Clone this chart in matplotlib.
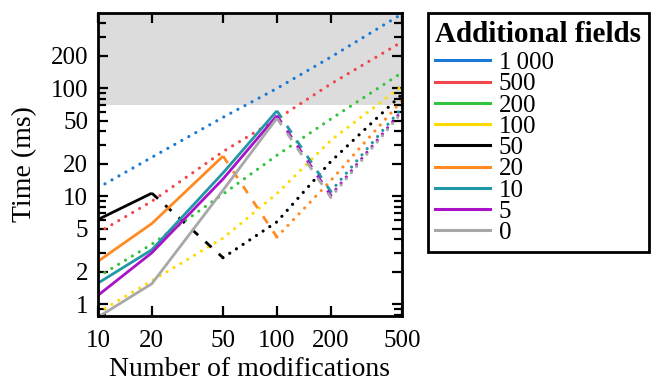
import matplotlib
matplotlib.use("Agg")
import matplotlib.pyplot as plt
from matplotlib.ticker import FixedLocator, NullFormatter, LogLocator

plt.rcParams['font.family'] = ['Liberation Serif', 'DejaVu Serif']

# number of modifications (x axis)
mods = [10, 20, 50, 100, 200, 500]

# legend labels (additional fields)
fields = ['1\u2009000', '500', '200', '100', '50', '20', '10', '5', '0']
colors = ['#1a78d6', '#f2474a', '#33c43f', '#ffdc00', '#000000',
          '#ff8a22', '#2197a8', '#a812c8', '#a8a8a8']

# times in ms
time_1000 = [12, 23, 54, 100, 195, 490]
time_500 = [4.6, 9, 26, 52, 110, 270]
time_200 = [1.8, 3.6, 10.5, 24, 52, 140]
time_100 = [0.84, 1.65, 4.1, 10.6, 33, 105]
time_50 = [6.1, 10.7, 2.7, 5.8, 21, 88]
time_20 = [2.5, 5.6, 23.6, 4.2, 14, 77]
time_10 = [1.57, 3.2, 16.5, 62, 11.1, 66]
time_5 = [1.21, 3.0, 14.5, 56, 10.2, 62]
time_0 = [0.76, 1.55, 11.4, 53, 9.8, 60]
times = [time_1000, time_500, time_200, time_100, time_50,
         time_20, time_10, time_5, time_0]

# index of the last point of the solid part (0 = only dotted)
last_solid = [0, 0, 0, 0, 1, 2, 3, 3, 3]

threshold = 70  # shaded region above this

fig = plt.figure(figsize=(6.6, 3.82), dpi=100)
ax = fig.add_axes([0.1485, 0.173, 0.4605, 0.793])

ax.axhspan(threshold, 1000, color='#dcdcdc', lw=0, zorder=0)

lw = 2.0
dotted = (0, (0.01, 2.5))
dashed = (0, (3, 3.5))
handles = []
for label, col, y, m in zip(fields, colors, times, last_solid):
  if m > 0:
    ax.plot(mods[:m + 1], y[:m + 1], color=col, lw=lw,
            solid_capstyle='butt')
    ax.plot(mods[m:m + 2], y[m:m + 2], color=col, lw=lw,
            linestyle=dashed, dash_capstyle='butt')
    ax.plot(mods[m + 1:], y[m + 1:], color=col, lw=2.3,
            linestyle=dotted, dash_capstyle='round')
  else:
    ax.plot(mods, y, color=col, lw=2.3,
            linestyle=dotted, dash_capstyle='round')
  handles.append(plt.Line2D([], [], color=col, lw=2.2, label=label))

ax.set_xscale('log')
ax.set_yscale('log')
ax.set_xlim(10, 500)
ax.set_ylim(0.78, 500)

ax.xaxis.set_major_locator(FixedLocator(mods))
ax.xaxis.set_minor_locator(FixedLocator([]))
ax.set_xticklabels(['10', '20', '50', '100', '200', '500'])
yt = [1, 2, 5, 10, 20, 50, 100, 200]
ax.yaxis.set_major_locator(FixedLocator(yt))
ax.set_yticklabels([str(v) for v in yt])
ax.yaxis.set_minor_locator(LogLocator(base=10, subs=[3, 4, 6, 7, 8, 9]))
ax.yaxis.set_minor_formatter(NullFormatter())

ax.tick_params(which='both', direction='in', top=True, right=True,
               width=1.6, labelsize=18)
ax.tick_params(axis='x', which='major', pad=10)
ax.tick_params(axis='y', which='major', pad=7)
ax.tick_params(which='major', length=7)
ax.tick_params(which='minor', length=6)
for s in ax.spines.values():
  s.set_linewidth(2)

ax.set_xlabel('Number of modifications', fontsize=20, labelpad=4)
ax.set_ylabel('Time (ms)', fontsize=20, labelpad=10)

leg = fig.legend(handles=handles, loc='upper left',
                 bbox_to_anchor=(0.648, 0.965), borderaxespad=0,
                 fontsize=18, title='Additional fields', handlelength=2.2,
                 labelspacing=-0.05, handletextpad=0.35, borderpad=0.3,
                 fancybox=False, edgecolor='black', framealpha=1)
leg.get_title().set_fontweight('bold')
leg.get_title().set_fontsize(21)
leg._legend_box.align = 'left'
leg._legend_box.sep = 2.7
leg.get_frame().set_linewidth(2)

fig.savefig('out.png', dpi=100)
